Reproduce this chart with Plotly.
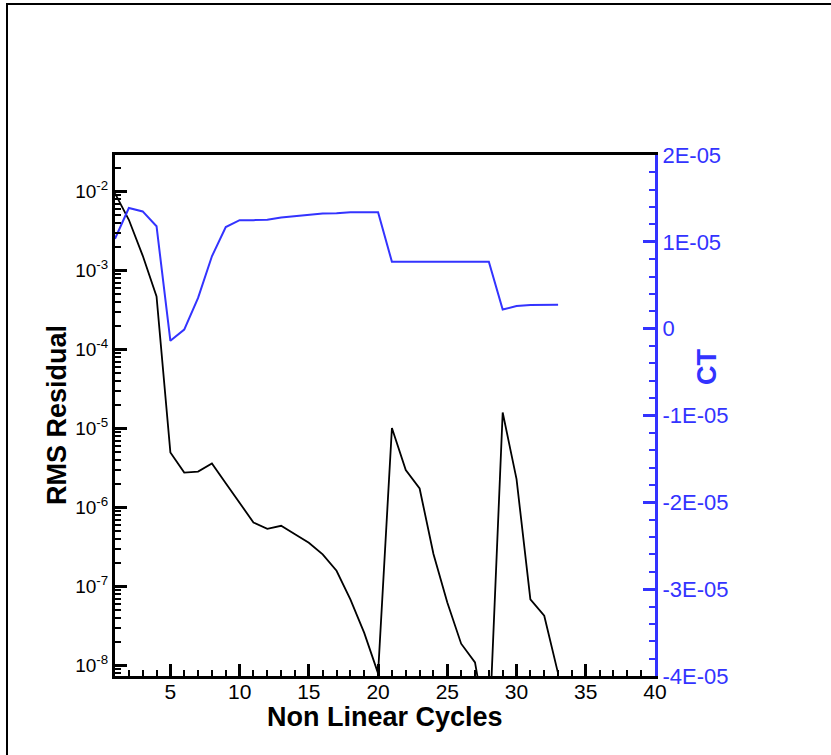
import plotly.graph_objects as go

# ---- data ----
cycles = list(range(1, 34))
rms_residual = [9.5e-3, 4.4e-3, 1.55e-3, 4.7e-4, 5.0e-6, 2.78e-6, 2.86e-6, 3.63e-6,
                2.04e-6, 1.13e-6, 6.5e-7, 5.4e-7, 5.9e-7, 4.6e-7, 3.6e-7, 2.57e-7,
                1.59e-7, 6.9e-8, 2.6e-8, 8.0e-9, 1.02e-5, 3.0e-6, 1.75e-6, 2.6e-7,
                6.3e-8, 1.9e-8, 1.1e-8, 1.1e-9, 1.6e-5, 2.3e-6, 6.9e-8, 4.3e-8, 8.0e-9]
ct = [1.035e-5, 1.39e-5, 1.35e-5, 1.18e-5, -1.4e-6, -1e-7, 3.54e-6, 8.34e-6,
      1.17e-5, 1.25e-5, 1.25e-5, 1.254e-5, 1.28e-5, 1.295e-5, 1.307e-5, 1.326e-5,
      1.33e-5, 1.34e-5, 1.34e-5, 1.34e-5, 7.7e-6, 7.7e-6, 7.7e-6, 7.7e-6,
      7.7e-6, 7.7e-6, 7.7e-6, 7.7e-6, 2.2e-6, 2.6e-6, 2.72e-6, 2.75e-6, 2.75e-6]

x_ticks = [5, 10, 15, 20, 25, 30, 35, 40]
log_ticks = [1e-8, 1e-7, 1e-6, 1e-5, 1e-4, 1e-3, 1e-2]
log_labels = ["10<sup>-8</sup>", "10<sup>-7</sup>", "10<sup>-6</sup>", "10<sup>-5</sup>",
              "10<sup>-4</sup>", "10<sup>-3</sup>", "10<sup>-2</sup>"]
ct_ticks = [-4e-5, -3e-5, -2e-5, -1e-5, 0, 1e-5, 2e-5]
ct_labels = ["-4E-05", "-3E-05", "-2E-05", "-1E-05", "0", "1E-05", "2E-05"]

BLUE = "rgb(51,51,255)"
FONT = "Liberation Sans"

fig = go.Figure()
fig.add_trace(go.Scatter(x=cycles, y=rms_residual, mode="lines",
                         line=dict(color="black", width=1.8), yaxis="y",
                         showlegend=False))
fig.add_trace(go.Scatter(x=cycles, y=ct, mode="lines",
                         line=dict(color=BLUE, width=2), yaxis="y2",
                         showlegend=False))

fig.update_layout(
    width=831, height=755,
    margin=dict(l=115, r=176, t=155, b=79),
    paper_bgcolor="white", plot_bgcolor="white",
    font=dict(family=FONT, size=20, color="black"),
    xaxis=dict(range=[1, 40], tickvals=x_ticks, showgrid=False, zeroline=False,
               showline=True, linecolor="black", linewidth=3, mirror=True,
               ticks="inside", ticklen=12, tickwidth=3, tickcolor="black",
               ticklabelstandoff=-5,
               minor=dict(ticks="inside", ticklen=6, tickwidth=1.5, dtick=1,
                          tickcolor="black", showgrid=False),
               tickfont=dict(size=21)),
    yaxis=dict(type="log", range=[-8.13, -1.537], tickvals=log_ticks,
               ticktext=log_labels, showgrid=False, zeroline=False,
               showline=True, linecolor="black", linewidth=3,
               ticks="inside", ticklen=12, tickwidth=3, tickcolor="black",
               minor=dict(ticks="inside", ticklen=6, tickwidth=1.5,
                          tickcolor="black", showgrid=False, dtick="D1"),
               tickfont=dict(size=19)),
    yaxis2=dict(overlaying="y", side="right", range=[-4e-5, 2e-5],
                tickvals=ct_ticks, ticktext=ct_labels, showgrid=False,
                zeroline=False, showline=True, linecolor=BLUE, linewidth=3,
                ticks="inside", ticklen=12, tickwidth=3, tickcolor=BLUE,
                minor=dict(ticks="inside", ticklen=6, tickwidth=1.5, dtick=2e-6,
                           tickcolor=BLUE, showgrid=False),
                tickfont=dict(size=22, color=BLUE)),
    annotations=[
        dict(text="<b>RMS Residual</b>", xref="paper", yref="paper",
             x=-0.1074, y=0.501, xanchor="center", yanchor="middle",
             showarrow=False, textangle=-90,
             font=dict(size=27, color="black", family=FONT)),
        dict(text="<b>Non Linear Cycles</b>", xref="paper", yref="paper",
             x=0.5, y=-0.0787, xanchor="center", yanchor="middle",
             showarrow=False,
             font=dict(size=27, color="black", family=FONT)),
        dict(text="<b>CT</b>", xref="paper", yref="paper",
             x=1.0963, y=0.593, xanchor="center", yanchor="middle",
             showarrow=False, textangle=-90,
             font=dict(size=27, color=BLUE, family=FONT)),
    ],
    shapes=[
        dict(type="path", xref="paper", yref="paper",
             path="M -0.2,-0.2 L -0.2,1.2898 L 1.4,1.2898",
             line=dict(color="black", width=2)),
    ],
)

fig.write_html("out.html", config={"displayModeBar": False},
               post_script="document.body.style.margin='0';")
